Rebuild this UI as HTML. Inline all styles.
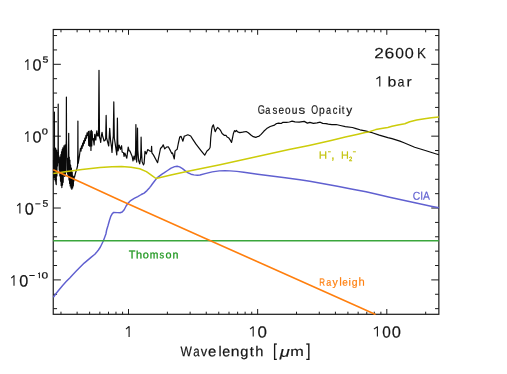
<!DOCTYPE html>
<html><head><meta charset="utf-8"><title>Opacity</title>
<style>html,body{margin:0;padding:0;background:#fff;width:507px;height:374px;overflow:hidden;font-family:"Liberation Sans",sans-serif}</style>
</head><body>
<svg width="507" height="374" viewBox="0 0 507 374" style="display:block;position:absolute;left:0;top:0">
<rect width="507" height="374" fill="#fff"/>
<defs><clipPath id="c"><rect x="52.65" y="28.9" width="386.8" height="286.0"/></clipPath></defs>
<path d="M128.50,314.30L128.50,309.00M128.50,29.50L128.50,34.80M257.65,314.30L257.65,309.00M257.65,29.50L257.65,34.80M386.80,314.30L386.80,309.00M386.80,29.50L386.80,34.80M60.97,314.30L60.97,311.70M60.97,29.50L60.97,32.30M77.11,314.30L77.11,311.70M77.11,29.50L77.11,32.30M89.62,314.30L89.62,311.70M89.62,29.50L89.62,32.30M99.85,314.30L99.85,311.70M99.85,29.50L99.85,32.30M108.49,314.30L108.49,311.70M108.49,29.50L108.49,32.30M115.98,314.30L115.98,311.70M115.98,29.50L115.98,32.30M122.59,314.30L122.59,311.70M122.59,29.50L122.59,32.30M167.38,314.30L167.38,311.70M167.38,29.50L167.38,32.30M190.12,314.30L190.12,311.70M190.12,29.50L190.12,32.30M206.26,314.30L206.26,311.70M206.26,29.50L206.26,32.30M218.77,314.30L218.77,311.70M218.77,29.50L218.77,32.30M229.00,314.30L229.00,311.70M229.00,29.50L229.00,32.30M237.64,314.30L237.64,311.70M237.64,29.50L237.64,32.30M245.13,314.30L245.13,311.70M245.13,29.50L245.13,32.30M251.74,314.30L251.74,311.70M251.74,29.50L251.74,32.30M296.53,314.30L296.53,311.70M296.53,29.50L296.53,32.30M319.27,314.30L319.27,311.70M319.27,29.50L319.27,32.30M335.41,314.30L335.41,311.70M335.41,29.50L335.41,32.30M347.92,314.30L347.92,311.70M347.92,29.50L347.92,32.30M358.15,314.30L358.15,311.70M358.15,29.50L358.15,32.30M366.79,314.30L366.79,311.70M366.79,29.50L366.79,32.30M374.28,314.30L374.28,311.70M374.28,29.50L374.28,32.30M380.89,314.30L380.89,311.70M380.89,29.50L380.89,32.30M425.68,314.30L425.68,311.70M425.68,29.50L425.68,32.30M53.25,308.65L57.05,308.65M438.85,308.65L435.05,308.65M53.25,294.27L57.05,294.27M438.85,294.27L435.05,294.27M53.25,279.90L60.85,279.90M438.85,279.90L431.25,279.90M53.25,265.53L57.05,265.53M438.85,265.53L435.05,265.53M53.25,251.15L57.05,251.15M438.85,251.15L435.05,251.15M53.25,236.78L57.05,236.78M438.85,236.78L435.05,236.78M53.25,222.41L57.05,222.41M438.85,222.41L435.05,222.41M53.25,208.03L60.85,208.03M438.85,208.03L431.25,208.03M53.25,193.66L57.05,193.66M438.85,193.66L435.05,193.66M53.25,179.29L57.05,179.29M438.85,179.29L435.05,179.29M53.25,164.92L57.05,164.92M438.85,164.92L435.05,164.92M53.25,150.54L57.05,150.54M438.85,150.54L435.05,150.54M53.25,136.17L60.85,136.17M438.85,136.17L431.25,136.17M53.25,121.80L57.05,121.80M438.85,121.80L435.05,121.80M53.25,107.42L57.05,107.42M438.85,107.42L435.05,107.42M53.25,93.05L57.05,93.05M438.85,93.05L435.05,93.05M53.25,78.68L57.05,78.68M438.85,78.68L435.05,78.68M53.25,64.30L60.85,64.30M438.85,64.30L431.25,64.30M53.25,49.93L57.05,49.93M438.85,49.93L435.05,49.93M53.25,35.56L57.05,35.56M438.85,35.56L435.05,35.56" stroke="#1a1a1a" stroke-width="1" fill="none"/>
<rect x="53.25" y="29.5" width="385.6" height="284.8" fill="none" stroke="#1a1a1a" stroke-width="1.2"/>
<g clip-path="url(#c)" fill="none" stroke-linejoin="round" stroke-linecap="butt">
<polyline points="53.4,160 53.6,178 53.9,149 54.3,147 54.4,112 54.5,147 54.7,178 55.0,148 55.3,181 55.6,148 55.9,183 56.25,184.6 56.5,150 56.9,176 57.2,153 57.5,166 57.9,151 58.1,148 58.2,104.2 58.3,148 58.55,162.6 58.88,155.8 59.21,170.1 59.54,161.6 59.87,176.0 60.2,157.3 60.53,181.2 60.86,154.7 61.19,185.4 61.52,151.9 61.85,187.6 62.18,149.7 62.51,185.1 62.84,147.8 63.17,182.3 63.95,145.8 64.73,176.4 65.06,144.9 65.39,174.1 65.72,144.8 66.0,150 66.3,140 66.4,97 66.5,140 66.7,150 67.0,172 67.3,158 67.6,174 67.9,160 68.3,176 68.6,150 68.7,133.3 68.8,150 69.0,180 69.3,157 69.6,183.5 69.9,160 70.2,186 70.6,165 71.0,188 71.4,168 71.8,189.2 72.2,172 72.6,188 73.0,176 73.3,186 73.6,178 73.9,181 74.2,176.5 74.5,177 75.5,173 76.9,168.6 77.6,165.5 77.8,150 77.9,121 78.0,150 78.2,163.5 79.3,157 79.8,153 79.90,152.0 80.45,148.4 81.00,151.1 81.55,145.8 82.10,148.5 82.65,143.2 83.20,145.9 83.75,140.6 84.30,143.3 84.85,138.0 85.40,140.7 85.95,135.4 86.50,138.1 87.05,132.8 87.60,135.5 88.35,131.5 88.75,145.5 89.15,131 89.7,146.2 90.4,140 90.75,131 90.95,150.5 91.35,130.3 91.75,146 92.15,131.5 92.6,140 93.3,138.5 94.1,144.9 94.75,134.4 95.2,138 95.8,140.2 96.3,134 96.85,130.9 97.4,136 97.9,133.5 98.5,136 99.0,70.3 99.5,137 100.1,139 100.7,142.4 101.3,136 102.05,132.3 102.7,136.5 103.45,138.6 104,141 105.3,140 105.7,138 106.15,115.4 106.6,138 108.7,146 109.7,128.3 110.5,140 111.5,147 112,152.4 112.8,140 113.3,136 113.8,101.9 114.3,138 115,142.4 116.8,154.8 117.1,140 117.4,118.1 117.7,140 118.1,151 119.1,145 120.4,149.4 121.6,145.7 122.1,152 123.5,152.8 124.1,156.5 124.8,153 126.8,158.2 128.2,147.2 129.2,151 129.8,150.8 132.2,156.5 133,161 134,156.1 135,159.8 135.6,150 135.9,124.6 136.2,150 136.7,162.1 137.2,150 137.5,128.1 137.8,150 138.7,160.8 139.7,163.8 140.6,158 140.9,150 141.1,137.2 141.4,150 142.1,161.6 143.4,164.9 144.1,163.4 145,151.4 146.3,153.85 147.7,149.6 149.8,151 151.3,151.4 151.6,146.25 151.9,152.8 153.4,154.9 157.6,162.7 160.5,148.5 162.2,146.75 163.2,144.8 164.7,148.9 166.5,147.1 168.3,146.75 170.4,150.65 171.8,153.5 172.5,152.8 174.3,159 175,151.4 175.4,150.6 177.2,149.2 178.3,143.5 179.7,137.1 181.1,136.4 182.9,141.2 184.3,136 185.4,135.8 187.85,134.8 190.7,136 192.5,138.9 196,144.2 201,150.6 204.7,155.2 207,150.95 208.8,149.5 210,147.75 210.25,146 210.75,137.75 211.7,129.2 212.4,126.4 213.4,124.8 214.3,128.5 215.2,131.7 216.4,129.2 217.6,127.5 219.3,128.9 220.7,130.65 222.1,133.5 224.2,135.3 226,135.3 227.1,137 228.9,138.1 230.3,140.2 231.55,142.4 232.4,138.5 233.4,133.5 234.5,130.65 235.55,131.5 236.4,130.5 237.7,131.9 239.8,132.6 242.65,132.2 246.2,131.5 248.3,132.8 251.2,135.3 253.3,136.7 255.8,137.4 257.2,136.7 258.6,136.5 261.1,134.4 263.8,131.3 266.7,128.6 270.2,126.5 274.5,125.1 276.6,123.5 278.7,123.1 281.2,123.5 283,122.25 286.5,122.4 289.4,122.0 292.1,121.2 295,121.9 299.2,122.2 304.2,121.4 307.4,123.1 309.9,122.4 313.4,123.35 317,122.8 320.2,122.2 322.7,123.35 326,123.6 328.3,124.1 331.8,124.65 336.1,124.5 340.3,125.5 345.3,126.6 352.4,127.5 356,128.6 360,129.8 365.1,130.8 372.2,132.7 379.3,135.1 387.8,137.6 392,138.6 399.9,141.1 404,142.75 414.65,147.2 425.3,150.55 432.4,152.7 438.85,154.8" stroke="#0a0a0a" stroke-width="1.2"/>
<polyline points="53.4,297.2 56.25,293.3 59.1,289.75 62.65,285.5 66.2,281.6 69.75,277.9 72.5,274.9 76.5,270.8 84.2,263.1 91.3,257.1 94.85,254.3 97,251.8 98.4,250 100.4,247 103.4,240.7 105.9,234 106.65,230 108.1,225.3 109.5,220.3 110.9,216.1 112.3,213.6 113.75,212.4 117.3,212.65 120.15,212.7 122.2,212 124.2,209.8 126.1,206 127.5,204 128.5,202.7 130.65,200.55 134.2,198.4 137.75,196.65 141.3,194.5 144.15,193.1 147,190.6 149.8,187.4 150.9,186 152.5,183.8 154.6,181 157.1,177.9 160,175.6 162.4,173.9 164,172.9 167.55,170.5 171.1,168.1 174.65,166.65 177.1,166.3 179.6,166.9 182.5,168.65 185.3,170.8 188.15,172.8 191,174.2 193.8,174.9 197.4,175.2 200,175.05 205.1,173.6 212.2,171.85 219.3,170.9 225,170.8 230,170.9 236.9,171.4 243.8,172.3 257.6,174.3 271.4,176 285.2,177.7 300,179.7 309.8,181.3 323.6,183.8 337.4,186.3 351.25,189.05 366,191.8 375.8,194 389.6,197.3 403.4,200.3 417.25,203.3 431,206.2 438.85,207.8" stroke="#6060d0" stroke-width="1.45"/>
<path d="M53.25,240.76H438.85" stroke="#3aa63c" stroke-width="1.35"/>
<polyline points="53.3,173.6 67,171.5 82,169.5 100,167.6 112,166.8 121.6,166.5 131,167.2 139.7,168.8 146.4,171.6 152,175.6 156,178.5 172,174.8 188,171.2 204,168 220,164.7 289,149.6 309,145.4 331.1,140.4 345.3,136.9 358,134.2 365.1,132.6 368.65,131.9 375.75,129.6 382.9,128.3 387.8,127.5 392,126.3 397.9,125 404.8,123.8 409.75,121.8 416.65,120.05 424.5,118.7 431.4,117.7 438.85,117.1" stroke="#cccc0a" stroke-width="1.5"/>
<polyline points="53.25,169.75 83,183.2 120,200.3 209.9,240.6 266,265.4 360,307.6 375.5,314.5" stroke="#ff7f0e" stroke-width="1.6"/>
</g>
<g font-family="'Liberation Sans', sans-serif" opacity="0.999" text-rendering="geometricPrecision">
<text transform="translate(32.49,70.44) scale(1.005,1) matrix(1,0.0005,0,1,0,0)" font-size="16.20" fill="#151515" stroke="#151515" stroke-width="0.2">0</text>
<text transform="translate(42.47,62.51) scale(1.221,1) matrix(1,0.0005,0,1,0,0)" font-size="8.71" fill="#151515" stroke="#151515" stroke-width="0.25">5</text>
<text transform="translate(32.49,142.44) scale(1.008,1) matrix(1,0.0005,0,1,0,0)" font-size="16.14" fill="#151515" stroke="#151515" stroke-width="0.2">0</text>
<text transform="translate(41.86,134.61) scale(1.264,1) matrix(1,0.0005,0,1,0,0)" font-size="8.73" fill="#151515" stroke="#151515" stroke-width="0.25">0</text>
<text transform="translate(24.80,214.53) scale(0.979,1) matrix(1,0.0005,0,1,0,0)" font-size="16.62" fill="#151515" stroke="#151515" stroke-width="0.2">0</text>
<text transform="translate(42.38,206.70) scale(1.089,1) matrix(1,0.0005,0,1,0,0)" font-size="9.57" fill="#151515" stroke="#151515" stroke-width="0.25">5</text>
<text transform="translate(19.15,286.54) scale(0.986,1) matrix(1,0.0005,0,1,0,0)" font-size="16.48" fill="#151515" stroke="#151515" stroke-width="0.2">0</text>
<text transform="translate(41.52,278.41) scale(1.317,1) matrix(1,0.0005,0,1,0,0)" font-size="9.01" fill="#151515" stroke="#151515" stroke-width="0.25">0</text>
<text transform="translate(257.47,337.44) scale(1.057,1) matrix(1,0.0005,0,1,0,0)" font-size="16.06" fill="#151515" stroke="#151515" stroke-width="0.2">0</text>
<text transform="translate(382.18,337.44) scale(0.960,1) matrix(1,0.0005,0,1,0,0)" font-size="16.06" fill="#151515" stroke="#151515" stroke-width="0.2">0</text>
<text transform="translate(391.64,337.44) scale(1.025,1) matrix(1,0.0005,0,1,0,0)" font-size="16.06" fill="#151515" stroke="#151515" stroke-width="0.2">0</text>
<text transform="translate(273.12,356.34) scale(0.802,1) matrix(1,0.0005,0,1,0,0)" font-size="17.45" fill="#151515" stroke="#151515" stroke-width="0.15">[</text>
<text transform="translate(306.14,356.34) scale(0.888,1) matrix(1,0.0005,0,1,0,0)" font-size="17.45" fill="#151515" stroke="#151515" stroke-width="0.15">]</text>
<text transform="translate(279.87,356.83) scale(1.259,1) matrix(1,0.0005,0,1,0,0)" font-size="14.58" fill="#151515" stroke="#151515" stroke-width="0.15"><tspan font-style="italic">μ</tspan></text>
<text transform="translate(290.16,356.10) scale(1.221,1) matrix(1,0.0005,0,1,0,0)" font-size="13.33" fill="#151515" stroke="#151515" stroke-width="0.15">m</text>
<text transform="translate(348.91,161.10) scale(0.956,1) matrix(1,0.0005,0,1,0,0)" font-size="6.14" fill="#c4c410" stroke="#c4c410" stroke-width="0.35">2</text>
<text transform="translate(331.60,159.08) scale(0.857,1) matrix(1,0.0005,0,1,0,0)" font-size="11.67" fill="#c4c410" stroke="#c4c410" stroke-width="0.4">,</text>
<text transform="translate(412.68,199.65) scale(0.902,1) matrix(1,0.0005,0,1,0,0)" font-size="11.50" letter-spacing="0.000" fill="#6060d0" stroke="#6060d0" stroke-width="0.15">CIA</text>
<text transform="translate(318.67,158.75) scale(1.116,1) matrix(1,0.0005,0,1,0,0)" font-size="10.40" letter-spacing="0.000" fill="#c4c410" stroke="#c4c410" stroke-width="0.15">H</text>
<text transform="translate(341.03,158.75) scale(1.047,1) matrix(1,0.0005,0,1,0,0)" font-size="10.40" letter-spacing="0.000" fill="#c4c410" stroke="#c4c410" stroke-width="0.15">H</text>
<text transform="translate(180.58,356.15) scale(0.852,1) matrix(1,0.0005,0,1,0,0)" font-size="14.20" fill="#151515" stroke="#151515" stroke-width="0.2">W</text>
<text transform="translate(193.14,356.15) scale(0.813,1) matrix(1,0.0005,0,1,0,0)" font-size="14.20" fill="#151515" stroke="#151515" stroke-width="0.2">a</text>
<text transform="translate(200.77,356.15) scale(0.910,1) matrix(1,0.0005,0,1,0,0)" font-size="14.20" fill="#151515" stroke="#151515" stroke-width="0.2">v</text>
<text transform="translate(208.10,356.15) scale(1.049,1) matrix(1,0.0005,0,1,0,0)" font-size="14.20" fill="#151515" stroke="#151515" stroke-width="0.2">e</text>
<text transform="translate(218.47,356.15) scale(1.000,1) matrix(1,0.0005,0,1,0,0)" font-size="14.20" fill="#151515" stroke="#151515" stroke-width="0.2">l</text>
<text transform="translate(222.33,356.15) scale(1.004,1) matrix(1,0.0005,0,1,0,0)" font-size="14.20" fill="#151515" stroke="#151515" stroke-width="0.2">e</text>
<text transform="translate(230.70,356.15) scale(1.107,1) matrix(1,0.0005,0,1,0,0)" font-size="14.20" fill="#151515" stroke="#151515" stroke-width="0.2">n</text>
<text transform="translate(240.31,356.15) scale(1.033,1) matrix(1,0.0005,0,1,0,0)" font-size="14.20" fill="#151515" stroke="#151515" stroke-width="0.2">g</text>
<text transform="translate(249.80,356.15) scale(1.042,1) matrix(1,0.0005,0,1,0,0)" font-size="14.20" fill="#151515" stroke="#151515" stroke-width="0.2">t</text>
<text transform="translate(255.28,356.15) scale(1.031,1) matrix(1,0.0005,0,1,0,0)" font-size="14.20" fill="#151515" stroke="#151515" stroke-width="0.2">h</text>
<text transform="translate(374.24,58.35) scale(1.160,1) matrix(1,0.0005,0,1,0,0)" font-size="14.80" fill="#151515" stroke="#151515" stroke-width="0.15">2</text>
<text transform="translate(384.62,58.35) scale(1.190,1) matrix(1,0.0005,0,1,0,0)" font-size="14.80" fill="#151515" stroke="#151515" stroke-width="0.15">6</text>
<text transform="translate(395.27,58.35) scale(1.056,1) matrix(1,0.0005,0,1,0,0)" font-size="14.80" fill="#151515" stroke="#151515" stroke-width="0.15">0</text>
<text transform="translate(404.75,58.35) scale(1.098,1) matrix(1,0.0005,0,1,0,0)" font-size="14.80" fill="#151515" stroke="#151515" stroke-width="0.15">0</text>
<text transform="translate(417.02,58.35) scale(0.913,1) matrix(1,0.0005,0,1,0,0)" font-size="14.80" fill="#151515" stroke="#151515" stroke-width="0.15">K</text>
<text transform="translate(387.39,86.40) scale(1.145,1) matrix(1,0.0005,0,1,0,0)" font-size="13.90" fill="#151515" stroke="#151515" stroke-width="0.15">b</text>
<text transform="translate(397.60,86.40) scale(0.899,1) matrix(1,0.0005,0,1,0,0)" font-size="13.90" fill="#151515" stroke="#151515" stroke-width="0.15">a</text>
<text transform="translate(406.41,86.40) scale(1.122,1) matrix(1,0.0005,0,1,0,0)" font-size="13.90" fill="#151515" stroke="#151515" stroke-width="0.15">r</text>
<text transform="translate(257.64,113.80) scale(0.750,1) matrix(1,0.0005,0,1,0,0)" font-size="12.30" fill="#151515" stroke="#151515" stroke-width="0.2">G</text>
<text transform="translate(265.33,113.80) scale(0.810,1) matrix(1,0.0005,0,1,0,0)" font-size="11.40" fill="#151515" stroke="#151515" stroke-width="0.2">a</text>
<text transform="translate(272.41,113.80) scale(0.857,1) matrix(1,0.0005,0,1,0,0)" font-size="11.40" fill="#151515" stroke="#151515" stroke-width="0.2">s</text>
<text transform="translate(278.40,113.80) scale(0.877,1) matrix(1,0.0005,0,1,0,0)" font-size="11.40" fill="#151515" stroke="#151515" stroke-width="0.2">e</text>
<text transform="translate(285.10,113.80) scale(0.877,1) matrix(1,0.0005,0,1,0,0)" font-size="11.40" fill="#151515" stroke="#151515" stroke-width="0.2">o</text>
<text transform="translate(291.68,113.80) scale(0.898,1) matrix(1,0.0005,0,1,0,0)" font-size="11.40" fill="#151515" stroke="#151515" stroke-width="0.2">u</text>
<text transform="translate(298.40,113.80) scale(1.183,1) matrix(1,0.0005,0,1,0,0)" font-size="11.40" fill="#151515" stroke="#151515" stroke-width="0.2">s</text>
<text transform="translate(311.16,113.80) scale(0.717,1) matrix(1,0.0005,0,1,0,0)" font-size="12.30" fill="#151515" stroke="#151515" stroke-width="0.2">O</text>
<text transform="translate(319.08,113.80) scale(0.897,1) matrix(1,0.0005,0,1,0,0)" font-size="11.40" fill="#151515" stroke="#151515" stroke-width="0.2">p</text>
<text transform="translate(325.88,113.80) scale(0.801,1) matrix(1,0.0005,0,1,0,0)" font-size="11.40" fill="#151515" stroke="#151515" stroke-width="0.2">a</text>
<text transform="translate(332.73,113.80) scale(0.816,1) matrix(1,0.0005,0,1,0,0)" font-size="11.40" fill="#151515" stroke="#151515" stroke-width="0.2">c</text>
<text transform="translate(338.50,113.80) scale(1.000,1) matrix(1,0.0005,0,1,0,0)" font-size="11.40" fill="#151515" stroke="#151515" stroke-width="0.2">i</text>
<text transform="translate(341.71,113.80) scale(0.842,1) matrix(1,0.0005,0,1,0,0)" font-size="11.40" fill="#151515" stroke="#151515" stroke-width="0.2">t</text>
<text transform="translate(346.25,113.80) scale(1.044,1) matrix(1,0.0005,0,1,0,0)" font-size="11.40" fill="#151515" stroke="#151515" stroke-width="0.2">y</text>
<text transform="translate(128.78,258.15) scale(0.971,1) matrix(1,0.0005,0,1,0,0)" font-size="11.20" fill="#259a25" stroke="#259a25" stroke-width="0.3">T</text>
<text transform="translate(135.93,258.15) scale(1.043,1) matrix(1,0.0005,0,1,0,0)" font-size="10.50" fill="#259a25" stroke="#259a25" stroke-width="0.3">h</text>
<text transform="translate(142.86,258.15) scale(1.044,1) matrix(1,0.0005,0,1,0,0)" font-size="10.50" fill="#259a25" stroke="#259a25" stroke-width="0.3">o</text>
<text transform="translate(149.77,258.15) scale(0.993,1) matrix(1,0.0005,0,1,0,0)" font-size="10.50" fill="#259a25" stroke="#259a25" stroke-width="0.3">m</text>
<text transform="translate(159.62,258.15) scale(0.886,1) matrix(1,0.0005,0,1,0,0)" font-size="10.50" fill="#259a25" stroke="#259a25" stroke-width="0.3">s</text>
<text transform="translate(165.57,258.15) scale(1.033,1) matrix(1,0.0005,0,1,0,0)" font-size="10.50" fill="#259a25" stroke="#259a25" stroke-width="0.3">o</text>
<text transform="translate(172.45,258.15) scale(1.020,1) matrix(1,0.0005,0,1,0,0)" font-size="10.50" fill="#259a25" stroke="#259a25" stroke-width="0.3">n</text>
<text transform="translate(319.16,285.80) scale(0.744,1) matrix(1,0.0005,0,1,0,0)" font-size="10.70" fill="#ff7f0e" stroke="#ff7f0e" stroke-width="0.18">R</text>
<text transform="translate(326.14,285.80) scale(0.845,1) matrix(1,0.0005,0,1,0,0)" font-size="10.70" fill="#ff7f0e" stroke="#ff7f0e" stroke-width="0.18">a</text>
<text transform="translate(332.60,285.80) scale(0.981,1) matrix(1,0.0005,0,1,0,0)" font-size="10.70" fill="#ff7f0e" stroke="#ff7f0e" stroke-width="0.18">y</text>
<text transform="translate(339.17,285.80) scale(1.000,1) matrix(1,0.0005,0,1,0,0)" font-size="11.60" fill="#ff7f0e" stroke="#ff7f0e" stroke-width="0.18">l</text>
<text transform="translate(342.30,285.80) scale(0.935,1) matrix(1,0.0005,0,1,0,0)" font-size="10.70" fill="#ff7f0e" stroke="#ff7f0e" stroke-width="0.18">e</text>
<text transform="translate(348.50,285.80) scale(1.000,1) matrix(1,0.0005,0,1,0,0)" font-size="10.70" fill="#ff7f0e" stroke="#ff7f0e" stroke-width="0.18">i</text>
<text transform="translate(351.68,285.80) scale(0.976,1) matrix(1,0.0005,0,1,0,0)" font-size="10.70" fill="#ff7f0e" stroke="#ff7f0e" stroke-width="0.18">g</text>
<text transform="translate(358.52,285.80) scale(0.965,1) matrix(1,0.0005,0,1,0,0)" font-size="11.60" fill="#ff7f0e" stroke="#ff7f0e" stroke-width="0.18">h</text>
<path d="M27.90,69.90V59.62L25.20,62.13" fill="none" stroke="#151515" stroke-width="1.1" stroke-linejoin="round"/>
<path d="M27.90,141.90V131.62L25.20,134.13" fill="none" stroke="#151515" stroke-width="1.1" stroke-linejoin="round"/>
<path d="M19.90,213.60V203.35L17.20,205.85" fill="none" stroke="#151515" stroke-width="1.1" stroke-linejoin="round"/>
<path d="M14.00,285.86V275.62L11.30,278.12" fill="none" stroke="#151515" stroke-width="1.1" stroke-linejoin="round"/>
<path d="M39.40,278.15V272.75L38.10,273.89" fill="none" stroke="#151515" stroke-width="1.0" stroke-linejoin="round"/>
<path d="M129.10,336.90V326.55L125.95,329.08" fill="none" stroke="#151515" stroke-width="1.1" stroke-linejoin="round"/>
<path d="M253.20,336.60V326.75L250.00,329.14" fill="none" stroke="#151515" stroke-width="1.1" stroke-linejoin="round"/>
<path d="M377.40,336.60V326.75L373.90,329.14" fill="none" stroke="#151515" stroke-width="1.1" stroke-linejoin="round"/>
<path d="M379.80,86.60V76.65L376.40,79.07" fill="none" stroke="#151515" stroke-width="1.1" stroke-linejoin="round"/>
<rect x="328" y="151.3" width="2.8" height="1" fill="#c4c410"/>
<rect x="352.9" y="151.3" width="3" height="1" fill="#c4c410"/>
<rect x="35.3" y="203.35" width="5.1" height="1" fill="#151515"/>
<rect x="29.3" y="275.0" width="5.4" height="1" fill="#151515"/>
</g>
</svg>
</body></html>
